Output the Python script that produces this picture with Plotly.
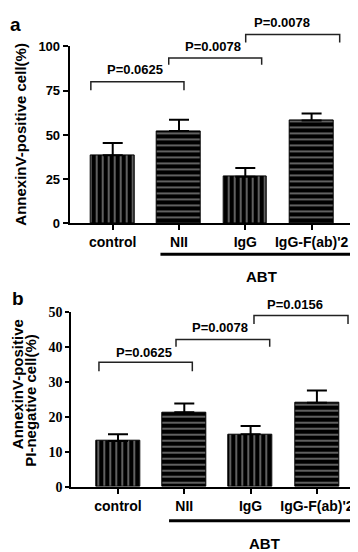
import plotly.graph_objects as go

# ---------------- data ----------------
categories = ["control", "NII", "IgG", "IgG-F(ab)'2"]
patterns = ["|", "-", "|", "-"]

a_values = [38.5, 52.2, 26.4, 58.2]
a_errors = [6.9, 6.4, 4.9, 3.9]
a_ticks = [0, 25, 50, 75, 100]
# brackets: (x_left, x_right, y_top, leg_bottom)
a_brackets = [(-0.33, 1.075, 80.0, 75.2), (0.845, 2.247, 93.4, 89.7), (2.006, 3.424, 106.8, 102.2)]
a_pvals = ["P=0.0625", "P=0.0078", "P=0.0078"]
a_ptext_pos = [(0.33, 87.0), (1.513, 100.2), (2.561, 113.6)]

b_values = [13.1, 21.3, 15.0, 24.0]
b_errors = [1.9, 2.5, 2.4, 3.5]
b_ticks = [0, 10, 20, 30, 40, 50]
b_brackets = [(-0.287, 1.121, 35.6, 33.0), (0.875, 2.288, 42.1, 40.0), (2.051, 3.469, 48.9, 46.5)]
b_pvals = ["P=0.0625", "P=0.0078", "P=0.0156"]
b_ptext_pos = [(0.388, 38.3), (1.534, 45.6), (2.665, 52.2)]

group_label = "ABT"

W, H = 358, 552
SANS = "Liberation Sans, Arial, sans-serif"
SERIF = "Liberation Serif, Times New Roman, serif"

xpos = list(range(len(categories)))

def py(px):
    return 1 - px / H

def pxx(px):
    return px / W

# domains
xa_dom = [pxx(61.7), pxx(348)]
ya_dom = [py(214.3), py(32.3)]
ya2_dom = [ya_dom[0], 1.0]
ya_max = 100
ya2_max = ya_max * (ya2_dom[1] - ya2_dom[0]) / (ya_dom[1] - ya_dom[0])

xb_dom = [pxx(63.3), pxx(355)]
yb_dom = [py(485), py(305)]
yb2_dom = [yb_dom[0], py(276)]
yb_max = 50
yb2_max = yb_max * (yb2_dom[1] - yb2_dom[0]) / (yb_dom[1] - yb_dom[0])

xa_range = [-0.649, 3.67]
xb_range = [-0.704, 3.695]

fig = go.Figure()

def add_panel(values, errors, xaxis, yaxis, yaxis_br, brackets):
    fig.add_trace(go.Bar(
        x=xpos, y=values, width=0.66, xaxis=xaxis, yaxis=yaxis,
        marker=dict(color="black", line=dict(color="black", width=1),
                    pattern=dict(shape=patterns, fgcolor="#e6e6e6", bgcolor="black",
                                 size=6, solidity=0.14, fillmode="replace")),
        error_y=dict(type="data", array=errors, arrayminus=[0] * len(errors),
                     symmetric=False, color="black", thickness=2, width=10),
        showlegend=False, hoverinfo="skip"))
    for (x0, x1, yt, yl) in brackets:
        fig.add_trace(go.Scatter(
            x=[x0, x0, x1, x1], y=[yl, yt, yt, yl], mode="lines",
            line=dict(color="#222", width=1.5), xaxis=xaxis, yaxis=yaxis_br,
            showlegend=False, hoverinfo="skip"))

add_panel(a_values, a_errors, "x", "y", "y2", a_brackets)
add_panel(b_values, b_errors, "x2", "y3", "y4", b_brackets)

axis_common = dict(showline=True, linecolor="black", linewidth=2, ticks="outside",
                   tickcolor="black", tickwidth=2, showgrid=False, zeroline=False)
catfont = dict(family=SANS, size=14, color="black", weight="bold")

fig.update_layout(
    width=W, height=H, margin=dict(l=0, r=0, t=0, b=0),
    paper_bgcolor="white", plot_bgcolor="rgba(0,0,0,0)", bargap=0,
    xaxis=dict(domain=xa_dom, range=xa_range, anchor="y", tickvals=xpos, ticktext=categories,
               ticklen=5, tickfont=catfont, **axis_common),
    yaxis=dict(domain=ya_dom, range=[0, ya_max], anchor="x", tickvals=a_ticks, ticklen=5,
               tickfont=dict(family=SANS, size=13, color="black", weight="bold"), **axis_common),
    yaxis2=dict(domain=ya2_dom, range=[0, ya2_max], anchor="x", visible=False),
    xaxis2=dict(domain=xb_dom, range=xb_range, anchor="y3", tickvals=xpos, ticktext=categories,
                ticklen=5, tickfont=catfont, **axis_common),
    yaxis3=dict(domain=yb_dom, range=[0, yb_max], anchor="x2", tickvals=b_ticks, ticklen=4,
                tickfont=dict(family=SERIF, size=14, color="black", weight="bold"), **axis_common),
    yaxis4=dict(domain=yb2_dom, range=[0, yb2_max], anchor="x2", visible=False),
)

C = dict(xanchor="center", yanchor="middle", showarrow=False)

pfont = dict(family=SANS, size=13, color="black", weight="bold")
for txt, (x, y) in zip(a_pvals, a_ptext_pos):
    fig.add_annotation(x=x, y=y, xref="x", yref="y2", text=txt, font=pfont, **C)
for txt, (x, y) in zip(b_pvals, b_ptext_pos):
    fig.add_annotation(x=x, y=y, xref="x2", yref="y4", text=txt, font=pfont, **C)

# group bars (ABT)
fig.add_shape(type="line", xref="x", yref="paper", x0=0.72, x1=3.64, y0=py(246), y1=py(246),
              line=dict(color="black", width=3))
fig.add_shape(type="line", xref="x2", yref="paper", x0=0.77, x1=3.69, y0=py(520), y1=py(520),
              line=dict(color="black", width=3))
abtfont = dict(family=SANS, size=15, color="black", weight="bold")
fig.add_annotation(x=2.237, y=py(269), xref="x", yref="paper", text=group_label,
                   font=abtfont, **C)
fig.add_annotation(x=2.217, y=py(543), xref="x2", yref="paper", text=group_label,
                   font=abtfont, **C)

# axis titles
tfont = dict(family=SANS, size=15, color="black", weight="bold")
fig.add_annotation(x=pxx(12.5), y=py(122.5), xref="paper", yref="paper",
                   text="AnnexinV-positive cell(%)", textangle=-90, font=tfont, **C)
fig.add_annotation(x=pxx(9.5), y=py(380), xref="paper", yref="paper",
                   text="AnnexinV-positive", textangle=-90, font=tfont, **C)
fig.add_annotation(x=pxx(22.5), y=py(396), xref="paper", yref="paper",
                   text="PI-negative cell(%)", textangle=-90, font=tfont, **C)

# panel letters
lfont = dict(family=SANS, size=19, color="black", weight="bold")
fig.add_annotation(x=pxx(7.5), y=py(10), xref="paper", yref="paper", text="a",
                   font=lfont, **C)
fig.add_annotation(x=pxx(9.5), y=py(291), xref="paper", yref="paper", text="b",
                   font=lfont, **C)

fig.write_html("out.html")
